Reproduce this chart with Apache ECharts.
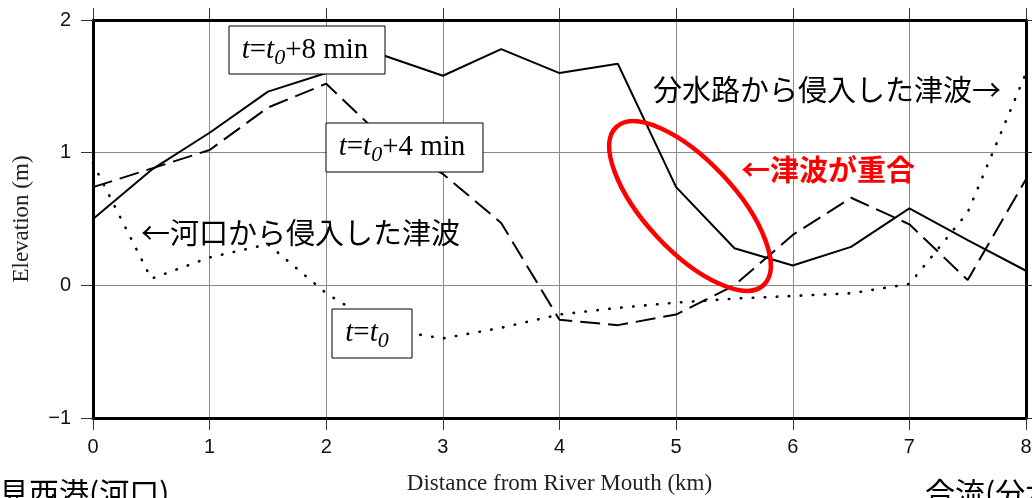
<!DOCTYPE html>
<html>
<head>
<meta charset="utf-8">
<script src="https://cdn.jsdelivr.net/npm/echarts@6/dist/echarts.min.js"></script>
<style>
  html, body { margin: 0; padding: 0; background: #fff; }
  #chart { width: 1032px; height: 498px; }
</style>
</head>
<body>
<div id="chart"></div>
<script>
// Distance along the river (km)
const distanceKm = [0, 0.5, 1, 1.5, 2, 2.5, 3, 3.5, 4, 4.5, 5, 5.5, 6, 6.5, 7, 7.5, 8];
// Water surface elevation (m) at three instants
const elevT0 = [0.92, 0.05, 0.21, 0.31, -0.06, -0.33, -0.40, -0.32, -0.22, -0.17, -0.13, -0.10, -0.08, -0.06, 0.01, 0.55, 1.60];
const elevT4 = [0.74, 0.88, 1.02, 1.34, 1.52, 1.10, 0.84, 0.47, -0.26, -0.30, -0.22, 0.00, 0.38, 0.66, 0.46, 0.04, 0.80];
const elevT8 = [0.50, 0.87, 1.15, 1.46, 1.60, 1.73, 1.58, 1.78, 1.60, 1.67, 0.74, 0.28, 0.15, 0.29, 0.58, 0.34, 0.11];
// Axis ranges and tick spacing
const xRange = [0, 8], xStep = 1;
const yRange = [-1, 2], yStep = 1;

const pairs = ys => distanceKm.map((x, i) => [x, ys[i]]);
const minus = v => String(v).replace('-', '\u2212');

const SERIF = '"Liberation Serif", "DejaVu Serif", serif';
const SANS = '"Liberation Sans", Arial, sans-serif';
const JP = '"Noto Sans CJK JP", "Noto Sans", sans-serif';

const frame = { show: true, onZero: false, lineStyle: { color: '#000', width: 3 } };
const ticks = { show: true, inside: false, length: 12, lineStyle: { color: '#333', width: 1 } };
const grid = { show: true, lineStyle: { color: '#8a8a8a', width: 1 } };

// Boxed time label: t = t0 (+ offset)
function timeBox(x, y, w, h, suffix, tx) {
  return {
    type: 'group', x: x, y: y, z: 100,
    children: [
      { type: 'rect', z: 100, shape: { x: 0, y: 0, width: w, height: h },
        style: { fill: '#fff', stroke: '#000', lineWidth: 1 } },
      { type: 'text', z: 101, x: tx, y: h / 2,
        style: {
          text: '{i|t}{n|=}{i|t}{s|0}' + (suffix ? '{n|' + suffix + '}' : ''),
          align: 'center', verticalAlign: 'middle',
          textAlign: 'center', textVerticalAlign: 'middle',
          fill: '#000',
          rich: {
            i: { fontFamily: SERIF, fontSize: 29, fontStyle: 'italic', fill: '#000' },
            n: { fontFamily: SERIF, fontSize: 29, fill: '#000' },
            s: { fontFamily: SERIF, fontSize: 22, fontStyle: 'italic', fill: '#000', padding: [16, 0, 0, 0] }
          }
        } }
    ]
  };
}

function note(text, x, y, opts) {
  return {
    type: 'text', x: x, y: y, z: 100,
    style: Object.assign({
      text: text, fontFamily: JP, fontSize: 29, fill: '#000',
      align: 'left', verticalAlign: 'middle',
      textAlign: 'left', textVerticalAlign: 'middle'
    }, opts || {})
  };
}

const chart = echarts.init(document.getElementById('chart'), null, { renderer: 'canvas' });
chart.setOption({
  backgroundColor: '#fff',
  animation: false,
  grid: { left: 93, right: 6, top: 20, bottom: 80, containLabel: false, outerBoundsMode: 'none' },
  xAxis: [
    {
      type: 'value', position: 'bottom', min: xRange[0], max: xRange[1], interval: xStep,
      axisLine: frame, axisTick: ticks, splitLine: grid,
      axisLabel: { show: true, margin: 19, fontFamily: SANS, fontSize: 20, color: '#111', formatter: minus },
      name: 'Distance from River Mouth (km)', nameLocation: 'middle', nameGap: 54,
      nameTextStyle: { fontFamily: SERIF, fontSize: 23, color: '#222' }
    },
    {
      type: 'value', position: 'top', min: xRange[0], max: xRange[1], interval: xStep,
      axisLine: frame, axisTick: ticks, splitLine: { show: false }, axisLabel: { show: false }
    }
  ],
  yAxis: [
    {
      type: 'value', position: 'left', min: yRange[0], max: yRange[1], interval: yStep,
      axisLine: frame, axisTick: ticks, splitLine: grid,
      axisLabel: { show: true, margin: 22, fontFamily: SANS, fontSize: 20, color: '#111', formatter: minus },
      name: 'Elevation (m)', nameLocation: 'middle', nameGap: 60, nameRotate: 90,
      nameTextStyle: { fontFamily: SERIF, fontSize: 23, color: '#222' }
    },
    {
      type: 'value', position: 'right', min: yRange[0], max: yRange[1], interval: yStep,
      axisLine: frame, axisTick: ticks, splitLine: { show: false }, axisLabel: { show: false }
    }
  ],
  series: [
    { name: 't=t0', type: 'line', data: pairs(elevT0), symbol: 'none', silent: true, z: 3,
      lineStyle: { color: '#000', width: 2.6, type: [0.5, 11.5], cap: 'round' } },
    { name: 't=t0+4 min', type: 'line', data: pairs(elevT4), symbol: 'none', silent: true, z: 4,
      lineStyle: { color: '#000', width: 2, type: [20, 8] } },
    { name: 't=t0+8 min', type: 'line', data: pairs(elevT8), symbol: 'none', silent: true, z: 5,
      lineStyle: { color: '#000', width: 2 } }
  ],
  graphic: [
    // highlight where the two waves overlap
    { type: 'ellipse', x: 690, y: 206, rotation: -47 * Math.PI / 180, z: 90,
      shape: { cx: 0, cy: 0, rx: 108, ry: 45 },
      style: { fill: 'none', stroke: '#ff0000', lineWidth: 4.5 } },
    timeBox(229, 26, 156, 48, '+8 min', 76),
    timeBox(326, 123, 157, 49, '+4 min', 76),
    timeBox(332, 309, 80, 49, '', 35),
    note('分水路から侵入した津波→', 653, 90),
    note('←河口から侵入した津波', 141, 233),
    note('←津波が重合', 741, 170, { fill: '#ff0000', fontWeight: 'bold', fontSize: 29 }),
    note('見西港(河口)', -1, 493, { fontSize: 30 }),
    note('合流(分水路)', 925, 493, { fontSize: 30 })
  ]
});
</script>
</body>
</html>
